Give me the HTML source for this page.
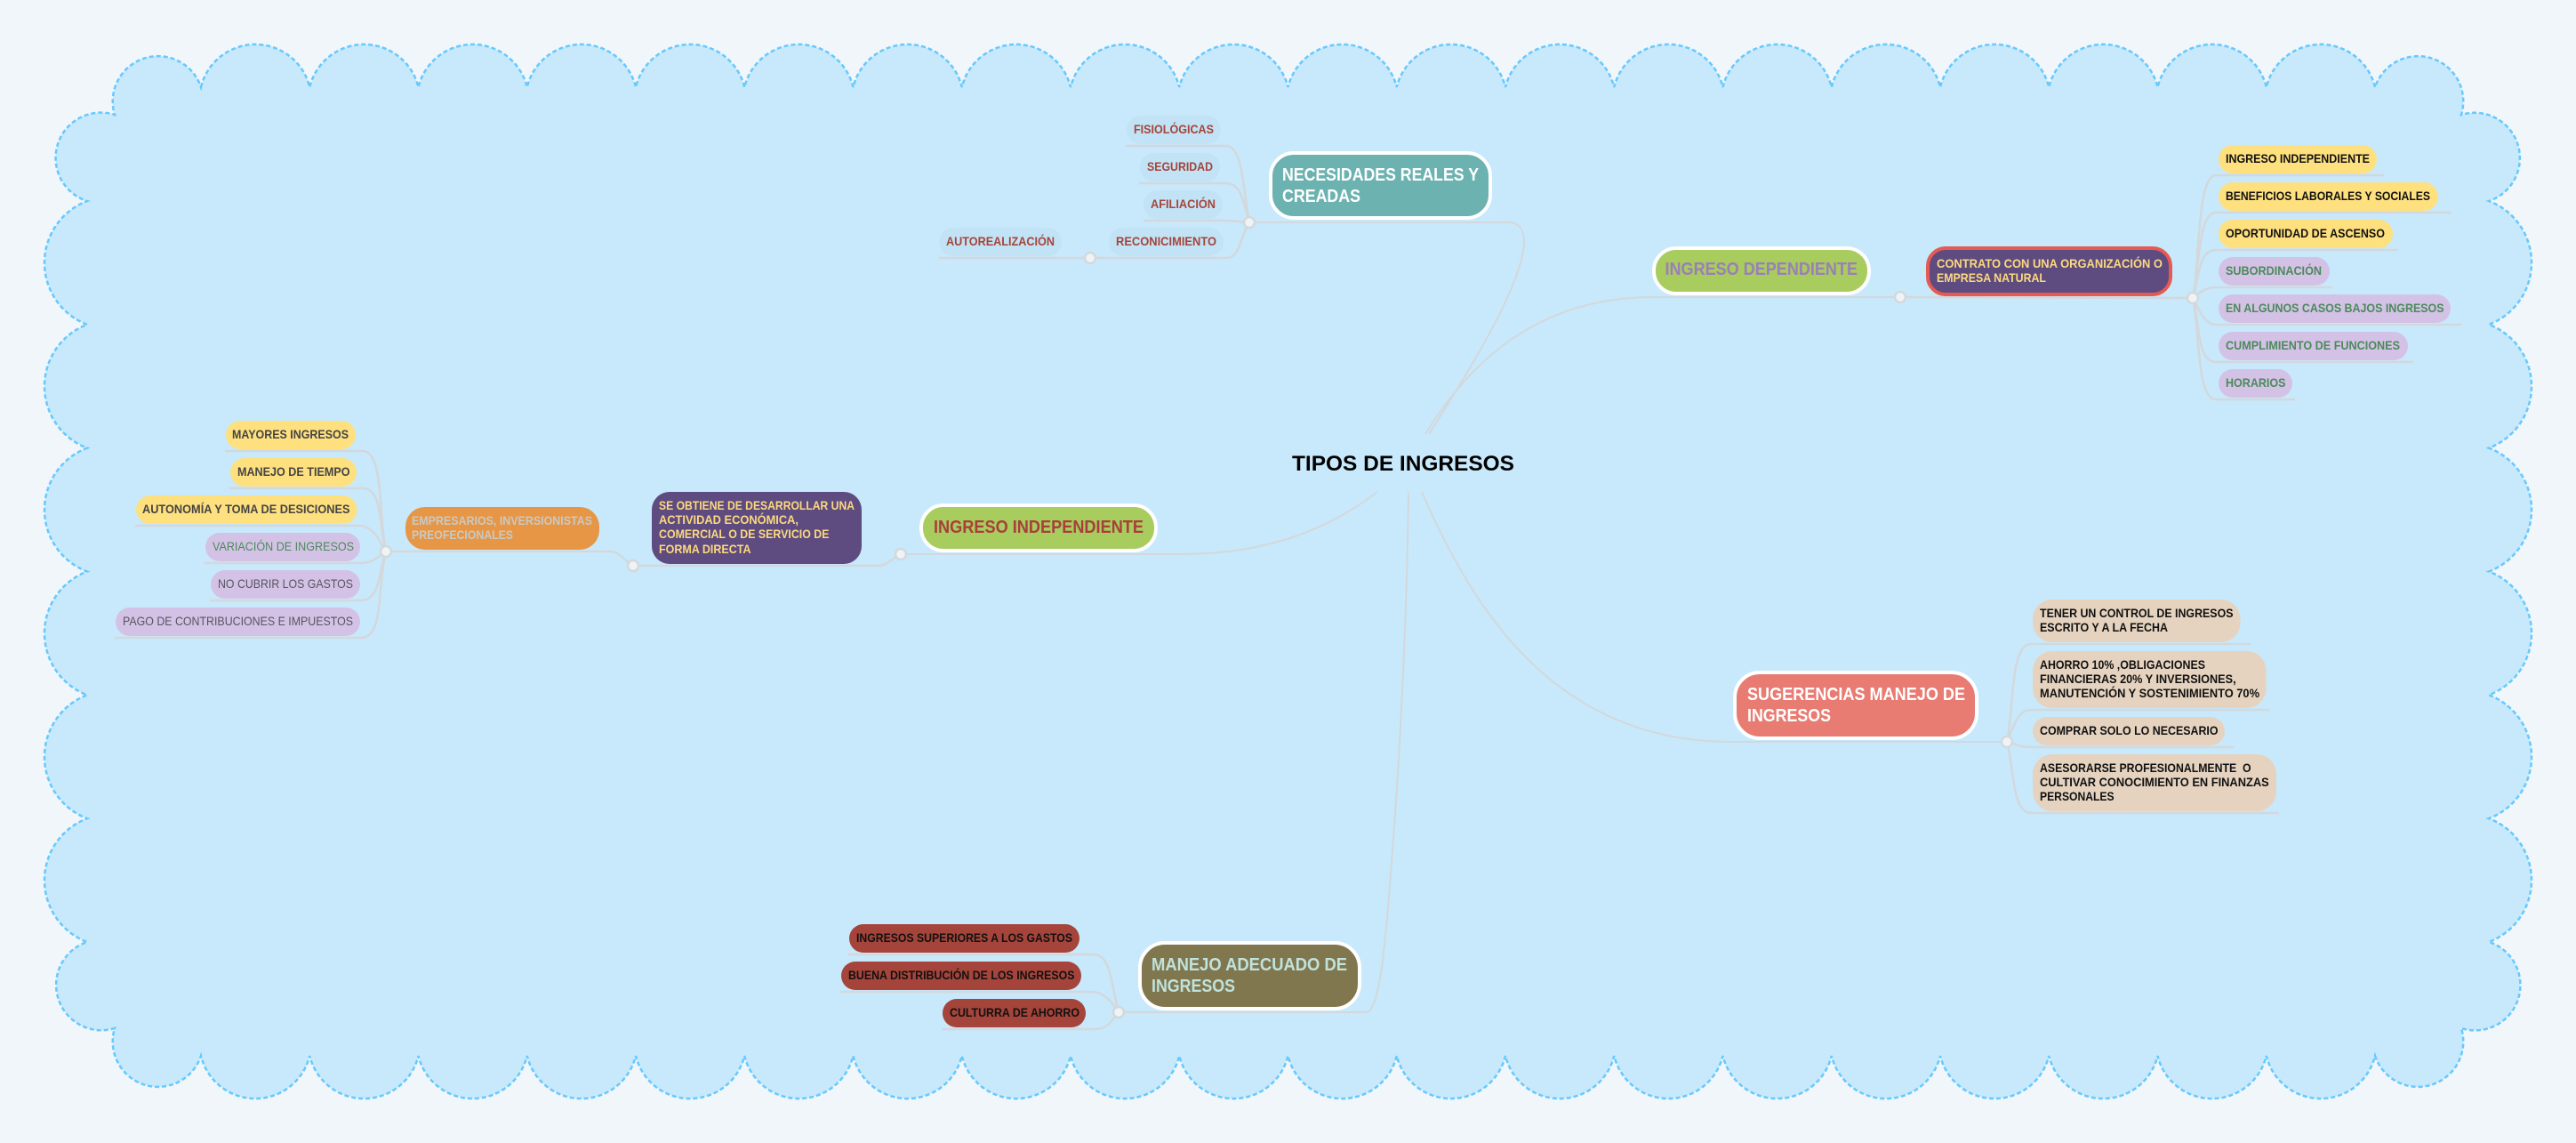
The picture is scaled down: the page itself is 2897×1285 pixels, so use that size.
<!DOCTYPE html>
<html lang="es">
<head>
<meta charset="utf-8">
<title>TIPOS DE INGRESOS</title>
<style>
html,body{margin:0;padding:0;background:#f0f6f9;width:2897px;height:1285px;overflow:hidden}
svg{display:block}
text{font-family:"Liberation Sans",sans-serif;font-size:14px;font-weight:700}
.n{font-size:20px}
.r{font-weight:400}
.l{fill:none;stroke:#d3d8dc;stroke-width:2.5}
.c{fill:none;stroke:#d3d8dc;stroke-width:2}
.h{fill:#eef3f6;stroke:#d3d8dc;stroke-width:2.5}
</style>
</head>
<body>
<svg xmlns="http://www.w3.org/2000/svg" width="2897" height="1285" viewBox="0 0 2897 1285">
<rect width="2897" height="1285" fill="#f0f6f9"/>
<path d="M226 98 a62.9 62.9 0 0 1 122.25 0 a62.9 62.9 0 0 1 122.25 0 a62.9 62.9 0 0 1 122.25 0 a62.9 62.9 0 0 1 122.25 0 a62.9 62.9 0 0 1 122.25 0 a62.9 62.9 0 0 1 122.25 0 a62.9 62.9 0 0 1 122.25 0 a62.9 62.9 0 0 1 122.25 0 a62.9 62.9 0 0 1 122.25 0 a62.9 62.9 0 0 1 122.25 0 a62.9 62.9 0 0 1 122.25 0 a62.9 62.9 0 0 1 122.25 0 a62.9 62.9 0 0 1 122.25 0 a62.9 62.9 0 0 1 122.25 0 a62.9 62.9 0 0 1 122.25 0 a62.9 62.9 0 0 1 122.25 0 a62.9 62.9 0 0 1 122.25 0 a62.9 62.9 0 0 1 122.25 0 a62.9 62.9 0 0 1 122.25 0 a62.9 62.9 0 0 1 122.25 0
A50.92 50.92 0 0 1 2768 129 A50.92 50.92 0 0 1 2799 226
a74.2 74.2 0 0 1 0 138.83 a74.2 74.2 0 0 1 0 138.83 a74.2 74.2 0 0 1 0 138.83 a74.2 74.2 0 0 1 0 138.83 a74.2 74.2 0 0 1 0 138.83 a74.2 74.2 0 0 1 0 138.83
A50.92 50.92 0 0 1 2768 1156 A50.92 50.92 0 0 1 2671 1187
a62.9 62.9 0 0 1 -122.25 0 a62.9 62.9 0 0 1 -122.25 0 a62.9 62.9 0 0 1 -122.25 0 a62.9 62.9 0 0 1 -122.25 0 a62.9 62.9 0 0 1 -122.25 0 a62.9 62.9 0 0 1 -122.25 0 a62.9 62.9 0 0 1 -122.25 0 a62.9 62.9 0 0 1 -122.25 0 a62.9 62.9 0 0 1 -122.25 0 a62.9 62.9 0 0 1 -122.25 0 a62.9 62.9 0 0 1 -122.25 0 a62.9 62.9 0 0 1 -122.25 0 a62.9 62.9 0 0 1 -122.25 0 a62.9 62.9 0 0 1 -122.25 0 a62.9 62.9 0 0 1 -122.25 0 a62.9 62.9 0 0 1 -122.25 0 a62.9 62.9 0 0 1 -122.25 0 a62.9 62.9 0 0 1 -122.25 0 a62.9 62.9 0 0 1 -122.25 0 a62.9 62.9 0 0 1 -122.25 0
A50.92 50.92 0 0 1 129 1156 A50.92 50.92 0 0 1 98 1059
a74.2 74.2 0 0 1 0 -138.83 a74.2 74.2 0 0 1 0 -138.83 a74.2 74.2 0 0 1 0 -138.83 a74.2 74.2 0 0 1 0 -138.83 a74.2 74.2 0 0 1 0 -138.83 a74.2 74.2 0 0 1 0 -138.83
A50.92 50.92 0 0 1 129 129 A50.92 50.92 0 0 1 226 98 Z" fill="#c8e9fb" stroke="#66c9ff" stroke-width="2.5" stroke-dasharray="5 3"/>

<!-- main connectors -->
<path class="c" d="M1607 488 C1650 420 1713 320 1714 272 C1714 258 1708 250 1696 250 L1405 250"/>
<path class="c" d="M1603 488 C1660 395 1740 334 1860 334 L2137 334"/>
<path class="c" d="M1549 553 C1490 598 1420 623 1328 623 L1013 623"/>
<path class="c" d="M1599 553 C1650 670 1740 834 1947 834 L2257 834"/>
<path class="c" d="M1584 554 C1582 700 1575 840 1565 970 C1558 1060 1552 1138 1536 1138 L1258 1138"/>

<!-- leaf connectors -->
<g>
<path class="l" d="M1405 250 C1398 215 1398 164 1379 164 L1266 164"/>
<path class="l" d="M1405 250 C1398 225 1395 206 1379 206 L1281 206"/>
<path class="l" d="M1405 250 C1395 250 1390 248 1379 248 L1286 248"/>
<path class="l" d="M1405 250 C1395 265 1395 290 1379 290 L1056 290"/>
<path class="l" d="M2137 334 L2466 335"/>
<path class="l" d="M2466 335 C2474 300 2470 197 2492 197 L2681 197"/>
<path class="l" d="M2466 335 C2474 300 2472 239 2492 239 L2757 239"/>
<path class="l" d="M2466 335 C2474 310 2472 281 2492 281 L2697 281"/>
<path class="l" d="M2466 335 C2472 330 2480 323 2492 323 L2623 323"/>
<path class="l" d="M2466 335 C2472 345 2478 365 2492 365 L2768 365"/>
<path class="l" d="M2466 335 C2474 360 2470 407 2492 407 L2714 407"/>
<path class="l" d="M2466 335 C2474 370 2470 449 2492 449 L2581 449"/>
<path class="l" d="M1013 623 C1000 630 997 636 987 636 L712 636"/>
<path class="l" d="M712 636 C700 628 696 620 686 620 L434 620"/>
<path class="l" d="M434 620 C426 585 432 507 408 507 L253 507"/>
<path class="l" d="M434 620 C426 590 430 549 408 549 L258 549"/>
<path class="l" d="M434 620 C428 610 420 591 404 591 L152 591"/>
<path class="l" d="M434 620 C426 625 420 633 406 633 L230 633"/>
<path class="l" d="M434 620 C426 640 428 675 406 675 L236 675"/>
<path class="l" d="M434 620 C424 660 432 717 406 717 L129 717"/>
<path class="l" d="M2257 834 C2265 800 2260 724 2284 724 L2531 724"/>
<path class="l" d="M2257 834 C2265 815 2270 798 2284 798 L2553 798"/>
<path class="l" d="M2257 834 C2265 836 2272 840 2284 840 L2512 840"/>
<path class="l" d="M2257 834 C2265 860 2262 914 2284 914 L2563 914"/>
<path class="l" d="M1258 1138 C1250 1110 1250 1073 1230 1073 L954 1073"/>
<path class="l" d="M1258 1138 C1250 1125 1240 1115 1228 1115 L945 1115"/>
<path class="l" d="M1258 1138 C1250 1148 1245 1157 1232 1157 L1059 1157"/>
</g>

<!-- top-left group -->
<rect x="1267" y="130" width="106" height="32" rx="16" fill="#c2e3f5"/>
<text x="1275" y="150" fill="#a5443a" textLength="90" lengthAdjust="spacingAndGlyphs">FISIOLÓGICAS</text>
<rect x="1282" y="172" width="90" height="32" rx="16" fill="#c2e3f5"/>
<text x="1290" y="192" fill="#a5443a" textLength="74" lengthAdjust="spacingAndGlyphs">SEGURIDAD</text>
<rect x="1286" y="214" width="89" height="32" rx="16" fill="#c2e3f5"/>
<text x="1294" y="234" fill="#a5443a" textLength="73" lengthAdjust="spacingAndGlyphs">AFILIACIÓN</text>
<rect x="1247" y="256" width="129" height="32" rx="16" fill="#c2e3f5"/>
<text x="1255" y="276" fill="#a5443a" textLength="113" lengthAdjust="spacingAndGlyphs">RECONICIMIENTO</text>
<rect x="1056" y="256" width="138" height="32" rx="16" fill="#c2e3f5"/>
<text x="1064" y="276" fill="#a5443a" textLength="122" lengthAdjust="spacingAndGlyphs">AUTOREALIZACIÓN</text>
<rect x="1429" y="172" width="247" height="73" rx="26" fill="#6bb2b0" stroke="#fff" stroke-width="4"/>
<text class="n" x="1442" y="203" fill="#fff" textLength="221" lengthAdjust="spacingAndGlyphs">NECESIDADES REALES Y</text>
<text class="n" x="1442" y="227" fill="#fff" textLength="88" lengthAdjust="spacingAndGlyphs">CREADAS</text>

<!-- center -->
<text x="1453" y="529" style="font-size:24px" fill="#000" textLength="250" lengthAdjust="spacingAndGlyphs">TIPOS DE INGRESOS</text>

<!-- dependiente -->
<rect x="1860" y="279" width="242" height="51" rx="25" fill="#a8cc5e" stroke="#fff" stroke-width="4"/>
<text class="n" x="1872.5" y="309" fill="#9a7fb8" textLength="216.5" lengthAdjust="spacingAndGlyphs">INGRESO DEPENDIENTE</text>
<rect x="2168" y="279" width="273" height="52" rx="20" fill="#5e4b7f" stroke="#e55a52" stroke-width="4"/>
<text x="2178" y="301" fill="#fdd97f" textLength="254" lengthAdjust="spacingAndGlyphs">CONTRATO CON UNA ORGANIZACIÓN O</text>
<text x="2178" y="317" fill="#fdd97f" textLength="123" lengthAdjust="spacingAndGlyphs">EMPRESA NATURAL</text>

<rect x="2495" y="163" width="178" height="32" rx="16" fill="#fee07f"/>
<text x="2503" y="183" fill="#111" textLength="162" lengthAdjust="spacingAndGlyphs">INGRESO INDEPENDIENTE</text>
<rect x="2495" y="205" width="247" height="32" rx="16" fill="#fee07f"/>
<text x="2503" y="225" fill="#111" textLength="230" lengthAdjust="spacingAndGlyphs">BENEFICIOS LABORALES Y SOCIALES</text>
<rect x="2495" y="247" width="196" height="32" rx="16" fill="#fee07f"/>
<text x="2503" y="267" fill="#111" textLength="179" lengthAdjust="spacingAndGlyphs">OPORTUNIDAD DE ASCENSO</text>
<rect x="2495" y="289" width="125" height="32" rx="16" fill="#d4c2e6"/>
<text x="2503" y="309" fill="#4a8a5a" textLength="108" lengthAdjust="spacingAndGlyphs">SUBORDINACIÓN</text>
<rect x="2495" y="331" width="261" height="32" rx="16" fill="#d4c2e6"/>
<text x="2503" y="351" fill="#4a8a5a" textLength="245.5" lengthAdjust="spacingAndGlyphs">EN ALGUNOS CASOS BAJOS INGRESOS</text>
<rect x="2495" y="373" width="213" height="32" rx="16" fill="#d4c2e6"/>
<text x="2503" y="393" fill="#4a8a5a" textLength="196" lengthAdjust="spacingAndGlyphs">CUMPLIMIENTO DE FUNCIONES</text>
<rect x="2495" y="415" width="83" height="32" rx="16" fill="#d4c2e6"/>
<text x="2503" y="435" fill="#4a8a5a" textLength="67.5" lengthAdjust="spacingAndGlyphs">HORARIOS</text>

<!-- independiente -->
<rect x="1036" y="568" width="264" height="51" rx="25" fill="#a8cc5e" stroke="#fff" stroke-width="4"/>
<text class="n" x="1050" y="599" fill="#a83f3a" textLength="236" lengthAdjust="spacingAndGlyphs">INGRESO INDEPENDIENTE</text>
<rect x="733" y="553" width="236" height="81" rx="20" fill="#5e4b7f"/>
<text x="741" y="573" fill="#fdd97f" textLength="220" lengthAdjust="spacingAndGlyphs">SE OBTIENE DE DESARROLLAR UNA</text>
<text x="741" y="589" fill="#fdd97f" textLength="157" lengthAdjust="spacingAndGlyphs">ACTIVIDAD ECONÓMICA,</text>
<text x="741" y="605" fill="#fdd97f" textLength="191.5" lengthAdjust="spacingAndGlyphs">COMERCIAL O DE SERVICIO DE</text>
<text x="741" y="622" fill="#fdd97f" textLength="103.5" lengthAdjust="spacingAndGlyphs">FORMA DIRECTA</text>
<rect x="456" y="570" width="218" height="48" rx="22" fill="#e69645"/>
<text x="463" y="590" fill="#c9c9c5" textLength="203" lengthAdjust="spacingAndGlyphs">EMPRESARIOS, INVERSIONISTAS</text>
<text x="463" y="606" fill="#c9c9c5" textLength="114" lengthAdjust="spacingAndGlyphs">PREOFECIONALES</text>

<rect x="254" y="473" width="146" height="32" rx="16" fill="#fee07f"/>
<text x="261" y="493" fill="#444" textLength="131" lengthAdjust="spacingAndGlyphs">MAYORES INGRESOS</text>
<rect x="259" y="515" width="142" height="32" rx="16" fill="#fee07f"/>
<text x="267" y="535" fill="#444" textLength="126.5" lengthAdjust="spacingAndGlyphs">MANEJO DE TIEMPO</text>
<rect x="153" y="557" width="248.5" height="32" rx="16" fill="#fee07f"/>
<text x="160" y="577" fill="#444" textLength="233.5" lengthAdjust="spacingAndGlyphs">AUTONOMÍA Y TOMA DE DESICIONES</text>
<rect x="231" y="599" width="174" height="32" rx="16" fill="#d4c2e6"/>
<text class="r" x="239" y="619" fill="#4a8a5a" textLength="159" lengthAdjust="spacingAndGlyphs">VARIACIÓN DE INGRESOS</text>
<rect x="237" y="641" width="168" height="32" rx="16" fill="#d4c2e6"/>
<text class="r" x="245" y="661" fill="#55555f" textLength="152" lengthAdjust="spacingAndGlyphs">NO CUBRIR LOS GASTOS</text>
<rect x="130" y="683" width="275" height="32" rx="16" fill="#d4c2e6"/>
<text class="r" x="138" y="703" fill="#55555f" textLength="259" lengthAdjust="spacingAndGlyphs">PAGO DE CONTRIBUCIONES E IMPUESTOS</text>

<!-- sugerencias -->
<rect x="1951" y="756" width="272" height="74" rx="28" fill="#e87b72" stroke="#fff" stroke-width="4"/>
<text class="n" x="1965" y="787" fill="#fff" textLength="245" lengthAdjust="spacingAndGlyphs">SUGERENCIAS MANEJO DE</text>
<text class="n" x="1965" y="811" fill="#fff" textLength="94" lengthAdjust="spacingAndGlyphs">INGRESOS</text>
<rect x="2286" y="674" width="233.6" height="48" rx="22" fill="#e5d3bf"/>
<text x="2294" y="694" fill="#111" textLength="217.5" lengthAdjust="spacingAndGlyphs">TENER UN CONTROL DE INGRESOS</text>
<text x="2294" y="710" fill="#111" textLength="144" lengthAdjust="spacingAndGlyphs">ESCRITO Y A LA FECHA</text>
<rect x="2286" y="732" width="262.6" height="64" rx="22" fill="#e5d3bf"/>
<text x="2294" y="752" fill="#111" textLength="186" lengthAdjust="spacingAndGlyphs">AHORRO 10% ,OBLIGACIONES</text>
<text x="2294" y="768" fill="#111" textLength="220.6" lengthAdjust="spacingAndGlyphs">FINANCIERAS 20% Y INVERSIONES,</text>
<text x="2294" y="784" fill="#111" textLength="247" lengthAdjust="spacingAndGlyphs">MANUTENCIÓN Y SOSTENIMIENTO 70%</text>
<rect x="2286" y="806" width="216" height="32" rx="16" fill="#e5d3bf"/>
<text x="2294" y="826" fill="#111" textLength="200.5" lengthAdjust="spacingAndGlyphs">COMPRAR SOLO LO NECESARIO</text>
<rect x="2286" y="848" width="274" height="64" rx="22" fill="#e5d3bf"/>
<text x="2294" y="868" fill="#111" textLength="237.6" lengthAdjust="spacingAndGlyphs" xml:space="preserve">ASESORARSE PROFESIONALMENTE  O</text>
<text x="2294" y="884" fill="#111" textLength="257.7" lengthAdjust="spacingAndGlyphs">CULTIVAR CONOCIMIENTO EN FINANZAS</text>
<text x="2294" y="900" fill="#111" textLength="83.6" lengthAdjust="spacingAndGlyphs">PERSONALES</text>

<!-- manejo -->
<rect x="1282" y="1060" width="247" height="74" rx="28" fill="#81774f" stroke="#fff" stroke-width="4"/>
<text class="n" x="1295" y="1091" fill="#bfe3dd" textLength="220" lengthAdjust="spacingAndGlyphs">MANEJO ADECUADO DE</text>
<text class="n" x="1295" y="1115" fill="#bfe3dd" textLength="94" lengthAdjust="spacingAndGlyphs">INGRESOS</text>
<rect x="955" y="1039" width="259" height="32" rx="16" fill="#a5443a"/>
<text x="963" y="1059" fill="#111" textLength="243" lengthAdjust="spacingAndGlyphs">INGRESOS SUPERIORES A LOS GASTOS</text>
<rect x="946" y="1081" width="270" height="32" rx="16" fill="#a5443a"/>
<text x="954" y="1101" fill="#111" textLength="254.5" lengthAdjust="spacingAndGlyphs">BUENA DISTRIBUCIÓN DE LOS INGRESOS</text>
<rect x="1060" y="1123" width="161" height="32" rx="16" fill="#a5443a"/>
<text x="1068" y="1143" fill="#111" textLength="146" lengthAdjust="spacingAndGlyphs">CULTURRA DE AHORRO</text>

<!-- hubs -->
<circle class="h" cx="1405" cy="250" r="6"/>
<circle class="h" cx="1226" cy="290" r="6"/>
<circle class="h" cx="2137" cy="334" r="6"/>
<circle class="h" cx="2466" cy="335" r="6"/>
<circle class="h" cx="1013" cy="623" r="6"/>
<circle class="h" cx="712" cy="636" r="6"/>
<circle class="h" cx="434" cy="620" r="6"/>
<circle class="h" cx="2257" cy="834" r="6"/>
<circle class="h" cx="1258" cy="1138" r="6"/>
</svg>
</body>
</html>
